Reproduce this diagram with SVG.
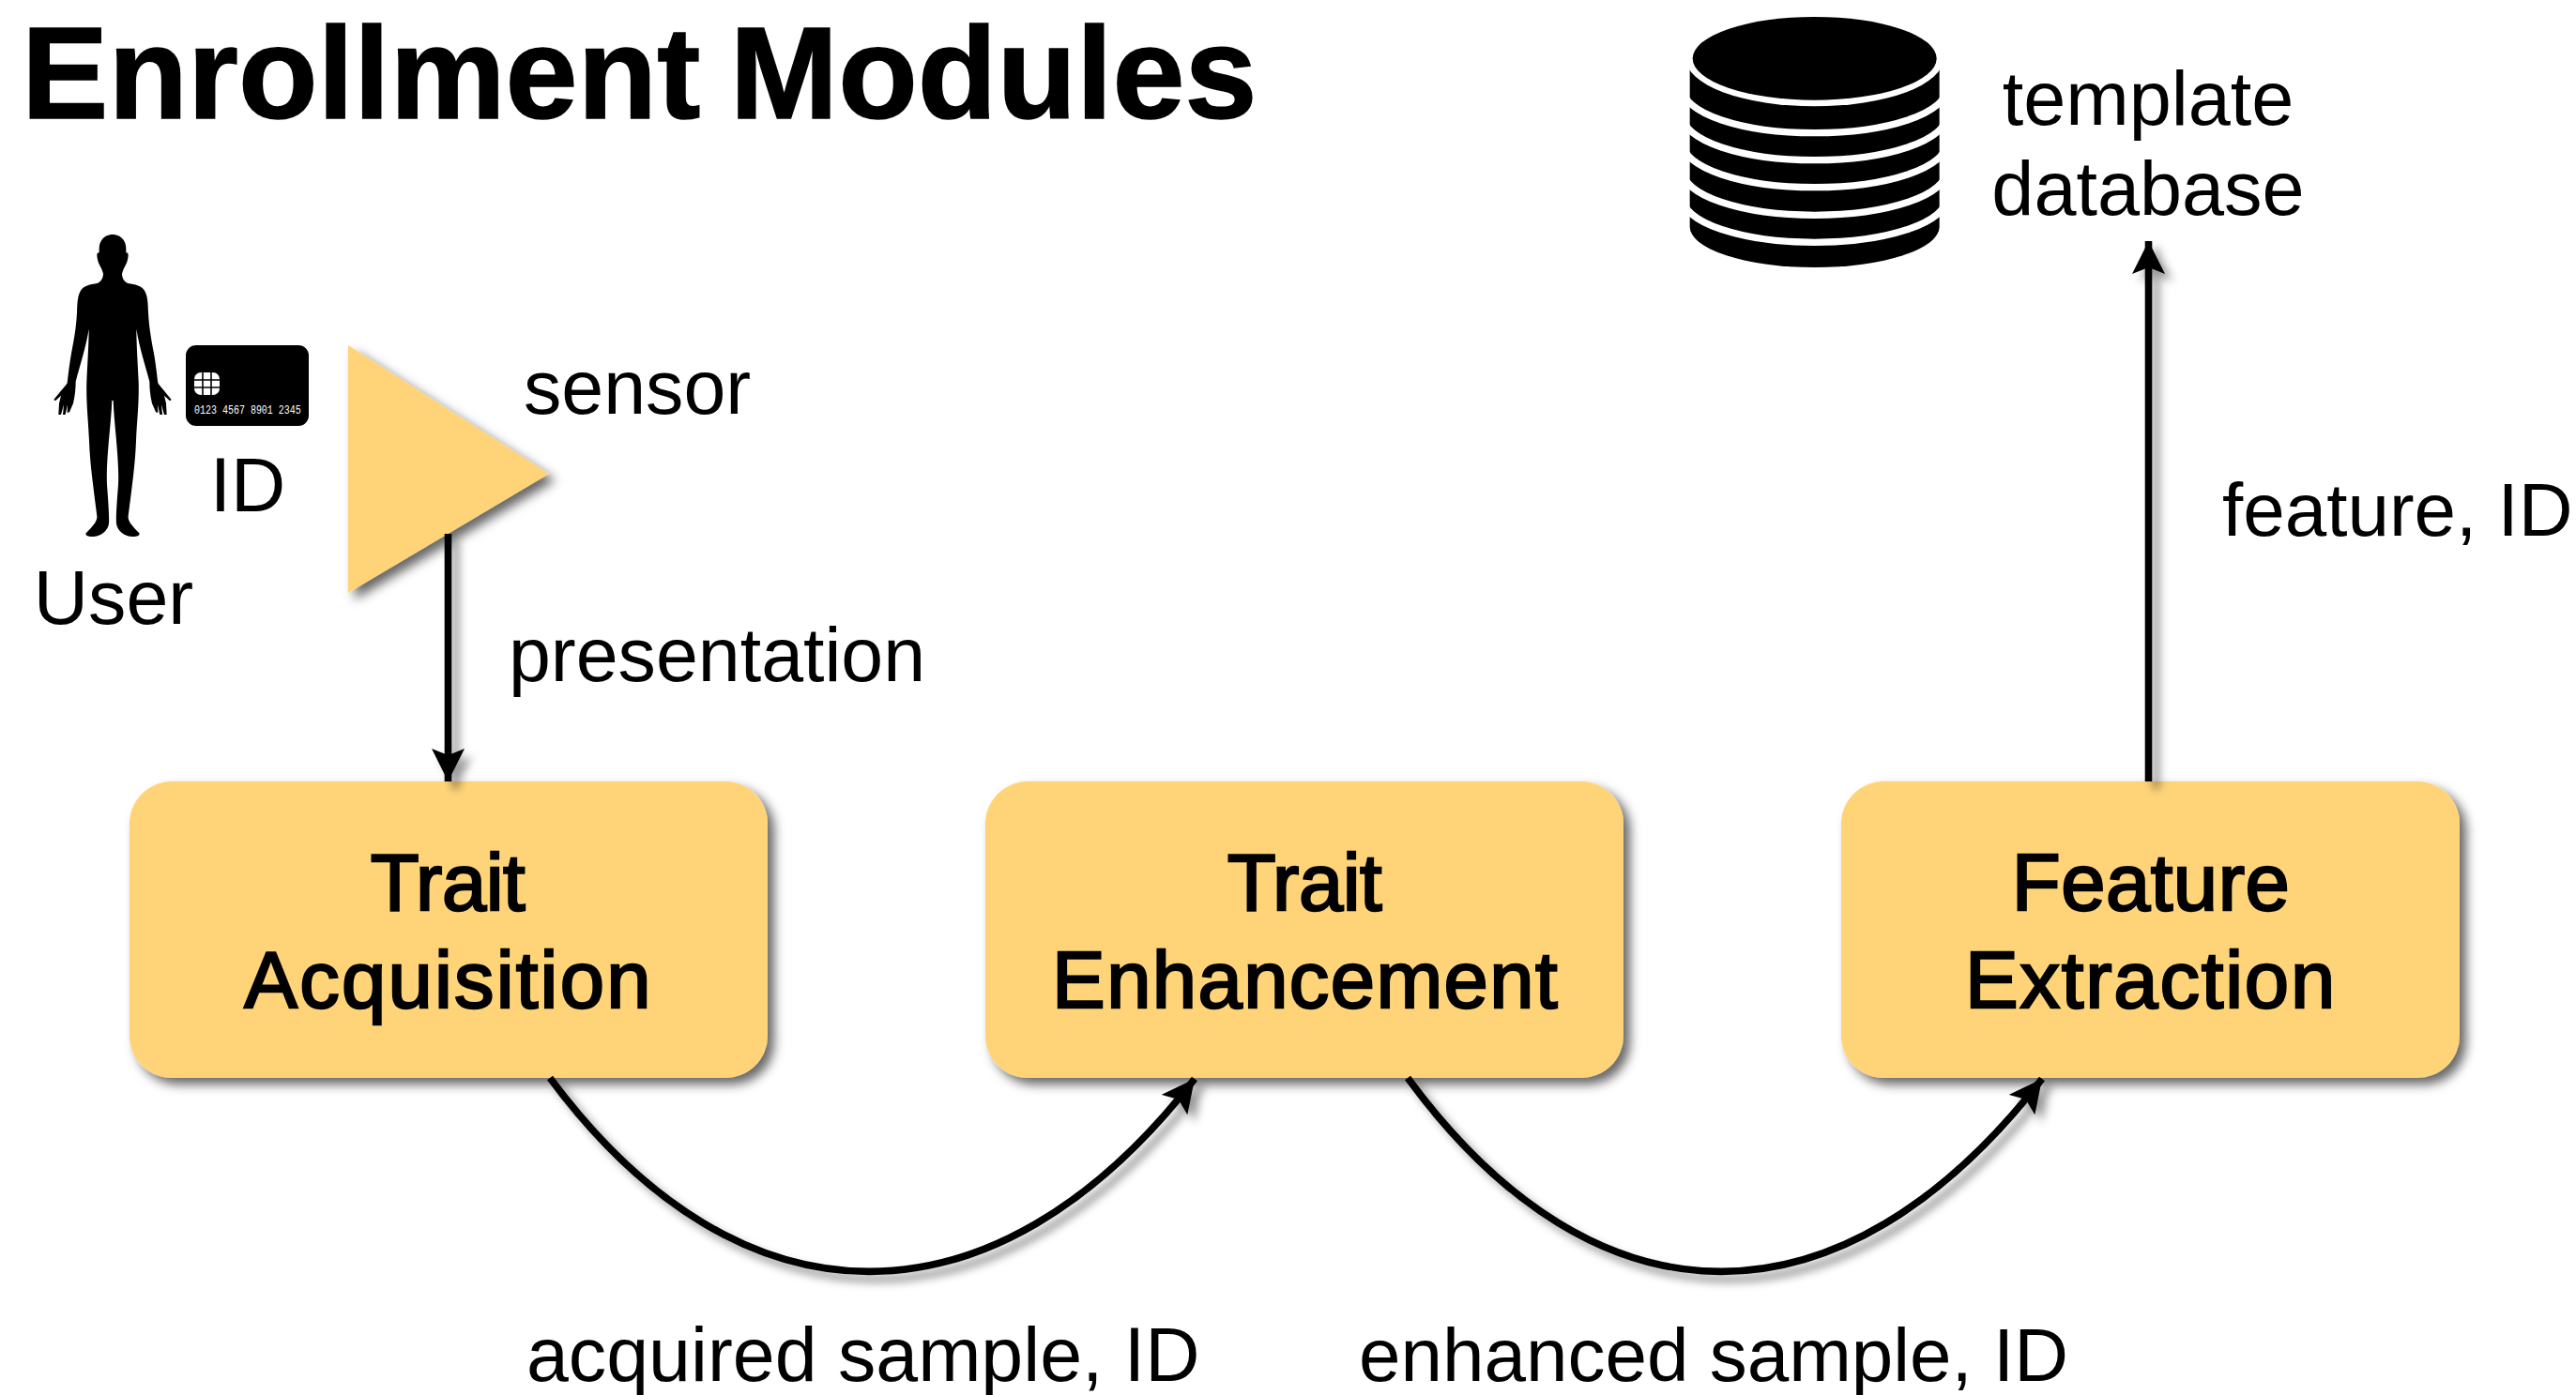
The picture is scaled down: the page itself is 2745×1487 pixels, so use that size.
<svg xmlns="http://www.w3.org/2000/svg" width="2745" height="1487" viewBox="0 0 2745 1487">
<style>
text{font-family:"Liberation Sans",Arial,sans-serif;fill:#000}
.l{font-size:80.7px}
.m{text-anchor:middle}
.b{font-size:85px;text-anchor:middle;stroke:#000;stroke-width:2.4}
.box{fill:#FFD479;filter:url(#sh)}
.c{fill:none;stroke:#000;stroke-width:7.6}
</style>
<defs>
<filter id="sh" x="-10%" y="-10%" width="125%" height="125%"><feDropShadow dx="7" dy="7" stdDeviation="6" flood-color="#000" flood-opacity="0.6"/></filter>
<filter id="shc" filterUnits="userSpaceOnUse" x="0" y="0" width="2745" height="1487"><feDropShadow dx="8" dy="8" stdDeviation="5" flood-color="#000" flood-opacity="0.4"/></filter>
<marker id="a" markerUnits="userSpaceOnUse" markerWidth="44" markerHeight="44" refX="35" refY="17.5" orient="auto"><path d="M0,0 L35,17.5 L0,35 L7,17.5Z" fill="#000"/></marker>
<path id="half" d="M236,60 L240,60 C265,60 283,78 283,105 L283,118 C290,118 291,122 289,135 C287,150 280,160 275,170 L270,185 C270,200 278,212 290,216 C310,220 335,222 345,245 C352,260 353,280 354,310 C356,350 362,390 372,440 C378,475 382,510 385,535 C395,550 410,565 428,588 L423,592 L405,575 L411,600 L413,636 L405,636 L396,604 L399,636 L391,636 L384,604 L385,630 L378,628 L366,600 C360,575 358,550 358,530 C345,480 325,420 316,362 C316,400 320,470 323,530 C325,600 318,650 315,720 C312,800 300,880 290,960 C288,975 300,990 325,1015 C328,1022 320,1027 300,1026 C275,1025 255,1005 252,985 C250,960 255,900 258,860 C262,780 245,670 242,590 L236,590Z"/>
</defs>
<rect width="2745" height="1487" fill="#fff"/>
<text id="title" x="23" y="126" font-size="138.5" font-weight="700" stroke="#000" stroke-width="1.5" word-spacing="-7">Enrollment Modules</text>
<g id="user">
<g transform="translate(40,230) scale(0.33333)"><use href="#half"/><use href="#half" transform="matrix(-1 0 0 1 480 0)"/></g>
<text class="l m" x="121" y="665">User</text>
</g>
<g id="id-card">
<rect x="198" y="368" width="131" height="86" rx="11"/>
<rect x="207" y="397" width="27" height="24" rx="7" fill="#fff"/>
<path d="M216,397V421M225,397V421M207,405H234M207,413H234" stroke="#000" stroke-width="1.6"/>
<text transform="translate(207,441) scale(1,1.25)" style="font-family:'Liberation Mono',monospace;font-size:10px;fill:#fff">0123 4567 8901 2345</text>
<text class="l m" x="264" y="545">ID</text>
</g>
<g id="sensor">
<path d="M371,368 L585,505 L371,632Z" fill="#FFD479" filter="url(#sh)"/>
<text class="l" x="558" y="441">sensor</text>
</g>
<g id="database">
<g transform="translate(1760,0) scale(0.33333)">
<path d="M122,187 H920 V725 A399,130 0 0 1 122,725Z"/>
<ellipse cx="521" cy="187" rx="412" ry="153" fill="#fff"/>
<ellipse cx="521" cy="187" rx="390" ry="133"/>
<g fill="none" stroke="#fff" stroke-width="22">
<path d="M100,284 A421,141 0 0 0 942,284"/>
<path d="M100,371 A421,141 0 0 0 942,371"/>
<path d="M100,458 A421,141 0 0 0 942,458"/>
<path d="M100,547 A421,141 0 0 0 942,547"/>
<path d="M100,634 A421,141 0 0 0 942,634"/>
</g>
</g>
<text class="l m" x="2289" y="133" style="font-size:81px">template</text>
<text class="l m" x="2289" y="229" style="font-size:81px">database</text>
</g>
<g id="trait-acquisition">
<rect class="box" x="138" y="833" width="680" height="316" rx="45"/>
<text class="b" x="477" y="970" letter-spacing="-0.5">Trait</text><text class="b" x="478" y="1074" letter-spacing="2.2">Acquisition</text>
</g>
<g id="trait-enhancement">
<rect class="box" x="1050" y="833" width="680" height="316" rx="45"/>
<text class="b" x="1390" y="970" letter-spacing="-0.5">Trait</text><text class="b" x="1391" y="1074" letter-spacing="1.4">Enhancement</text>
</g>
<g id="feature-extraction">
<rect class="box" x="1962" y="833" width="659" height="316" rx="45"/>
<text class="b" x="2292" y="970" letter-spacing="0.5">Feature</text><text class="b" x="2292" y="1074" letter-spacing="1.8">Extraction</text>
</g>
<g id="connectors" filter="url(#shc)">
<path class="c" marker-end="url(#a)" d="M477.5,569 V833"/>
<path class="c" marker-end="url(#a)" d="M2289.5,833 V257"/>
<path class="c" marker-end="url(#a)" d="M586,1149 C790,1424 1060,1424 1273,1150"/>
<path class="c" marker-end="url(#a)" d="M1500,1149 C1702,1424 1963,1424 2176,1150"/>
</g>
<g id="labels">
<text class="l" x="542" y="726">presentation</text>
<text class="l" x="2368" y="571" style="font-size:80px">feature, ID</text>
<text class="l" x="561" y="1472">acquired sample, ID</text>
<text class="l" x="1448" y="1472" style="font-size:80px">enhanced sample, ID</text>
</g>
</svg>
